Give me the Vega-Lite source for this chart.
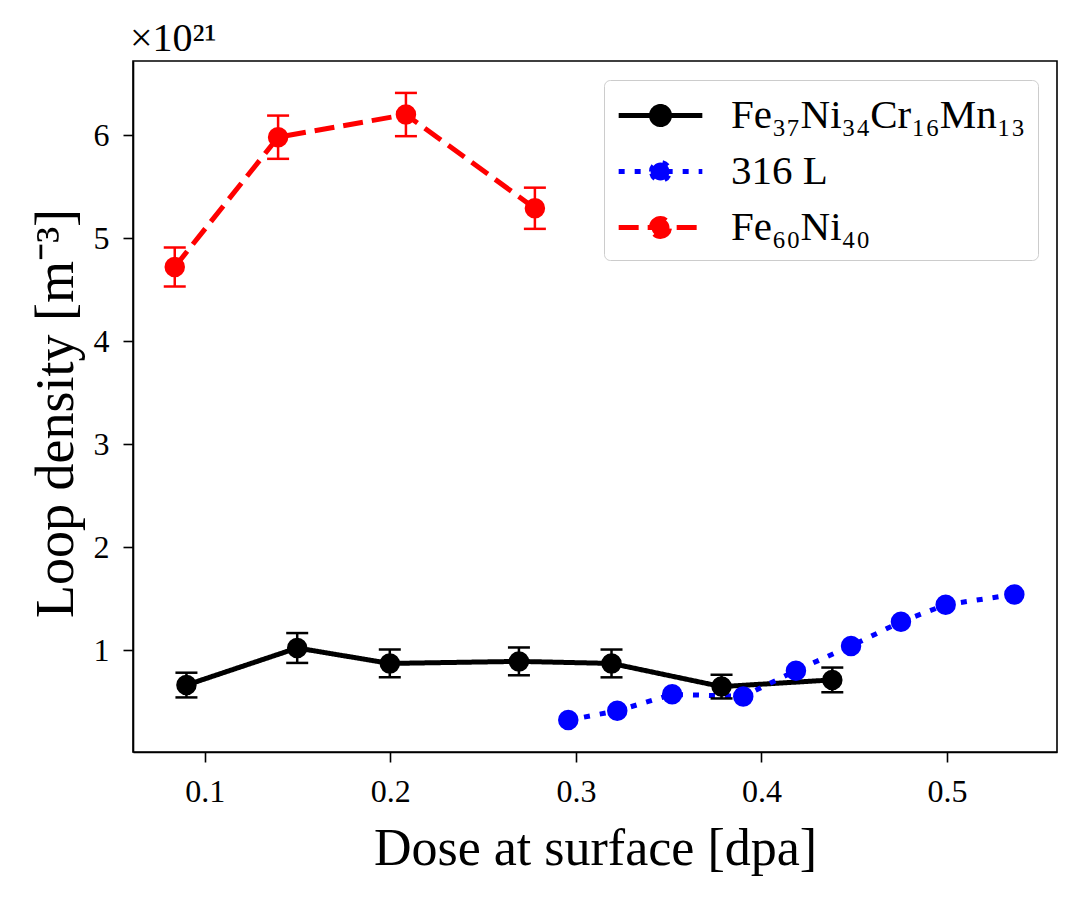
{
  "$schema": "https://vega.github.io/schema/vega-lite/v6.json",
  "width": 924,
  "height": 691,
  "autosize": {"type": "none"},
  "padding": {"left": 133, "top": 61, "right": 23, "bottom": 148},
  "background": "white",
  "title": {"text": "×10²¹", "anchor": "start", "frame": "group", "fontSize": 40, "font": "Liberation Serif", "fontWeight": "normal", "color": "black", "offset": 2, "dx": -3},
  "config": {
    "view": {"stroke": "black", "strokeWidth": 1.6},
    "font": "Liberation Serif",
    "axis": {"domainColor": "black", "domainWidth": 1.6, "tickColor": "black", "tickWidth": 1.6, "tickSize": 10, "labelFontSize": 32, "labelFont": "Liberation Serif", "labelColor": "black", "titleFont": "Liberation Serif", "titleFontSize": 50, "titleFontWeight": "normal", "titleColor": "black", "grid": false, "labelPadding": 12}
  },
  "data": {"values": [
    {"series": "Fe₃₇Ni₃₄Cr₁₆Mn₁₃", "dose": 0.0901, "density": 0.66, "lo": 0.54, "hi": 0.78},
    {"series": "Fe₃₇Ni₃₄Cr₁₆Mn₁₃", "dose": 0.1498, "density": 1.02, "lo": 0.875, "hi": 1.165},
    {"series": "Fe₃₇Ni₃₄Cr₁₆Mn₁₃", "dose": 0.1997, "density": 0.87, "lo": 0.735, "hi": 1.005},
    {"series": "Fe₃₇Ni₃₄Cr₁₆Mn₁₃", "dose": 0.2693, "density": 0.89, "lo": 0.755, "hi": 1.025},
    {"series": "Fe₃₇Ni₃₄Cr₁₆Mn₁₃", "dose": 0.3192, "density": 0.87, "lo": 0.735, "hi": 1.005},
    {"series": "Fe₃₇Ni₃₄Cr₁₆Mn₁₃", "dose": 0.3785, "density": 0.645, "lo": 0.53, "hi": 0.76},
    {"series": "Fe₃₇Ni₃₄Cr₁₆Mn₁₃", "dose": 0.4382, "density": 0.71, "lo": 0.59, "hi": 0.83},
    {"series": "316 L", "dose": 0.2959, "density": 0.32},
    {"series": "316 L", "dose": 0.3223, "density": 0.41},
    {"series": "316 L", "dose": 0.3519, "density": 0.57},
    {"series": "316 L", "dose": 0.3902, "density": 0.55},
    {"series": "316 L", "dose": 0.4186, "density": 0.80},
    {"series": "316 L", "dose": 0.4483, "density": 1.04},
    {"series": "316 L", "dose": 0.4752, "density": 1.275},
    {"series": "316 L", "dose": 0.4993, "density": 1.44},
    {"series": "316 L", "dose": 0.5363, "density": 1.54},
    {"series": "Fe₆₀Ni₄₀", "dose": 0.0838, "density": 4.72, "lo": 4.53, "hi": 4.91},
    {"series": "Fe₆₀Ni₄₀", "dose": 0.1395, "density": 5.98, "lo": 5.77, "hi": 6.19},
    {"series": "Fe₆₀Ni₄₀", "dose": 0.2084, "density": 6.20, "lo": 5.99, "hi": 6.41},
    {"series": "Fe₆₀Ni₄₀", "dose": 0.2779, "density": 5.29, "lo": 5.09, "hi": 5.49}
  ]},
  "encoding": {
    "x": {"field": "dose", "type": "quantitative", "scale": {"domain": [0.0613, 0.5593], "nice": false, "zero": false}, "axis": {"values": [0.1, 0.2, 0.3, 0.4, 0.5], "format": ".1f", "title": "Dose at surface [dpa]", "titlePadding": 16, "titleFontSize": 52, "labelPadding": 14}},
    "color": {"field": "series", "type": "nominal", "scale": {"domain": ["Fe₃₇Ni₃₄Cr₁₆Mn₁₃", "316 L", "Fe₆₀Ni₄₀"], "range": ["#000000", "#0000ff", "#ff0000"]}}
  },
  "layer": [
    {
      "mark": {"type": "line", "strokeWidth": 5},
      "encoding": {
        "y": {"field": "density", "type": "quantitative", "scale": {"domain": [0.01, 6.72], "nice": false, "zero": false}, "axis": {"values": [1, 2, 3, 4, 5, 6], "format": "d", "title": "Loop density [m⁻³]", "titlePadding": 10, "titleFontSize": 54, "labelPadding": 14, "titleY": 352}},
        "color": {"field": "series", "type": "nominal", "legend": {"orient": "top-right", "offset": 19, "title": null, "symbolType": "M-2,0H2M-0.43,0A0.43,0.43 0 1,1 0.43,0A0.43,0.43 0 1,1 -0.43,0Z", "symbolSize": 1750, "symbolOffset": 21, "symbolStrokeWidth": 5, "labelFontSize": 41, "labelFont": "Liberation Serif", "labelColor": "black", "labelLimit": 0, "fillColor": "white", "strokeColor": "#cccccc", "cornerRadius": 6, "padding": 12, "rowPadding": 12, "labelOffset": 47, "encode": {"symbols": {"update": {"fill": {"scale": "color", "field": "value"}}}}}},
        "strokeDash": {"field": "series", "type": "nominal", "scale": {"domain": ["Fe₃₇Ni₃₄Cr₁₆Mn₁₃", "316 L", "Fe₆₀Ni₄₀"], "range": [[1, 0], [6, 10], [20, 9]]}, "legend": null}
      }
    },
    {
      "transform": [{"filter": "isValid(datum.lo)"}],
      "mark": {"type": "errorbar", "opacity": 1, "ticks": {"size": 22, "thickness": 2.5, "opacity": 1}, "rule": {"strokeWidth": 2.5, "opacity": 1}},
      "encoding": {
        "y": {"field": "lo", "type": "quantitative", "title": "Loop density [m⁻³]"},
        "y2": {"field": "hi"},
        "color": {"field": "series", "type": "nominal", "legend": null}
      }
    },
    {
      "mark": {"type": "point", "shape": "circle", "filled": true, "size": 420, "opacity": 1},
      "encoding": {
        "y": {"field": "density", "type": "quantitative", "title": "Loop density [m⁻³]"},
        "color": {"field": "series", "type": "nominal", "legend": null}
      }
    }
  ]
}
